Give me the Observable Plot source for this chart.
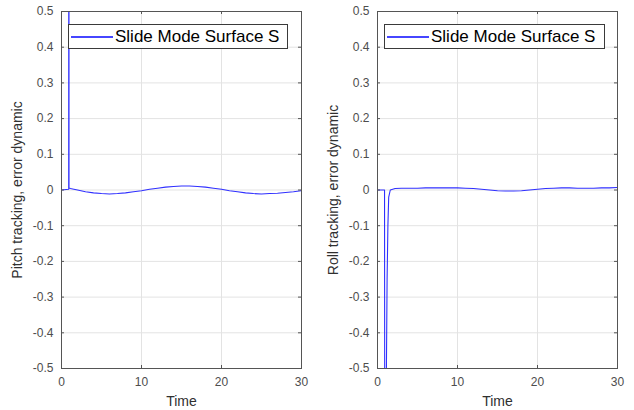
<!DOCTYPE html>
<html>
<head>
<meta charset="utf-8">
<script src="https://cdn.jsdelivr.net/npm/d3@7"></script>
<script src="https://cdn.jsdelivr.net/npm/@observablehq/plot@0.6"></script>
<style>
  body { margin: 0; background: #fff; }
  #wrap { position: relative; width: 634px; height: 410px; font-family: "Liberation Sans", Arial, sans-serif; }
  .panel { position: absolute; top: 0; }
  .legend { position: absolute; height: 25px; border: 1px solid #3a3a3a; background: #fff; box-sizing: border-box; }
  .legend .swatch { position: absolute; left: 2px; top: 11px; width: 42px; height: 1.5px; background: #4646ff; }
  .legend .lab { position: absolute; left: 46px; top: 1px; font-size: 17px; line-height: 21px; color: #000; white-space: nowrap; }
</style>
</head>
<body>
<div id="wrap"></div>
<script>
// ---- data ----
const xTicks = [0, 10, 20, 30];
const yTicks = [-0.5, -0.4, -0.3, -0.2, -0.1, 0, 0.1, 0.2, 0.3, 0.4, 0.5];
const yTickLabels = ["-0.5", "-0.4", "-0.3", "-0.2", "-0.1", "0", "0.1", "0.2", "0.3", "0.4", "0.5"];
const xLabel = "Time";
const legendLabel = "Slide Mode Surface S";
const pitchLabel = "Pitch tracking, error dynamic";
const rollLabel = "Roll tracking, error dynamic";

const pitchT = [0, 0.9, 0.92, 0.94, 1.1, 2, 3, 4, 5, 6, 7, 8, 9, 10, 11, 12, 13, 14, 15, 16, 17, 18, 19, 20, 21, 22, 23, 24, 25, 26, 27, 28, 29, 30];
const pitchS = [0, 0.002, 3.0, 0.006, 0.004, 0.0, -0.005, -0.008, -0.010, -0.011, -0.010, -0.008, -0.005, -0.002, 0.002, 0.005, 0.008, 0.010, 0.011, 0.011, 0.010, 0.008, 0.005, 0.002, -0.002, -0.005, -0.008, -0.010, -0.011, -0.010, -0.009, -0.007, -0.005, -0.002];

const rollT = [0, 0.88, 0.98, 1.08, 1.2, 1.3, 1.4, 1.6, 2.2, 3, 4, 5, 6, 7, 8, 9, 10, 11, 12, 13, 14, 15, 16, 17, 18, 19, 20, 21, 22, 23, 24, 25, 26, 27, 28, 29, 30];
const rollS = [0, 0.0, -3.0, -0.6, -0.25, -0.1, -0.02, 0.0, 0.004, 0.005, 0.005, 0.005, 0.006, 0.006, 0.006, 0.006, 0.006, 0.005, 0.004, 0.002, 0.0, -0.002, -0.003, -0.003, -0.002, 0.0, 0.002, 0.004, 0.005, 0.006, 0.006, 0.005, 0.005, 0.005, 0.006, 0.006, 0.007];

// ---- layout ----
const W = 317, H = 410, MT = 11, MB = 42;
const axisColor = "#555555";
const tickColor = "#4d4d4d";
const labelColor = "#303030";
const gridColor = "#e3e3e3";
const TL = 3;

function panel(T, S, ylabel, ml, mr) {
  const data = T.map((t, i) => ({t, s: S[i]}));
  const iw = W - ml - mr, ih = H - MT - MB;
  return Plot.plot({
    width: W, height: H,
    marginLeft: ml, marginRight: mr, marginTop: MT, marginBottom: MB,
    style: {fontFamily: "'Liberation Sans', Arial, sans-serif", background: "#fff", overflow: "visible"},
    x: {domain: [0, 30]},
    y: {domain: [-0.5, 0.5]},
    marks: [
      Plot.ruleX(xTicks, {stroke: gridColor, strokeWidth: 1}),
      Plot.ruleY(yTicks, {stroke: gridColor, strokeWidth: 1}),
      Plot.line(data, {x: "t", y: "s", stroke: "#3030ff", strokeWidth: 1.1, clip: true}),
      // inward ticks
      Plot.ruleX(xTicks, {stroke: axisColor, insetTop: ih - TL}),
      Plot.ruleX(xTicks, {stroke: axisColor, insetBottom: ih - TL}),
      Plot.ruleY(yTicks, {stroke: axisColor, insetRight: iw - TL}),
      Plot.ruleY(yTicks, {stroke: axisColor, insetLeft: iw - TL}),
      Plot.frame({stroke: axisColor, strokeWidth: 1}),
      Plot.axisX(xTicks, {tickSize: 0, tickPadding: 9, fontSize: 12, color: tickColor,
        tickFormat: d => String(d), label: null}),
      Plot.axisX([], {tickSize: 0, fontSize: 14, color: labelColor,
        label: xLabel, labelAnchor: "center", labelOffset: 37, labelArrow: "none"}),
      Plot.axisY(yTicks, {tickSize: 0, tickPadding: 8, fontSize: 12, color: tickColor,
        tickFormat: d => yTickLabels[yTicks.indexOf(d)], label: null}),
      Plot.axisY([], {tickSize: 0, fontSize: 14, color: labelColor,
        label: ylabel, labelAnchor: "center", labelOffset: 49, labelArrow: "none"})
    ]
  });
}

const wrap = document.getElementById("wrap");
function addPanel(left, T, S, ylabel, ml, mr, legLeft, legWidth) {
  const d = document.createElement("div");
  d.className = "panel";
  d.style.left = left + "px";
  d.appendChild(panel(T, S, ylabel, ml, mr));
  wrap.appendChild(d);
  const lg = document.createElement("div");
  lg.className = "legend";
  lg.style.left = legLeft + "px";
  lg.style.top = "24px";
  lg.style.width = legWidth + "px";
  lg.innerHTML = '<div class="swatch"></div><div class="lab"></div>';
  lg.querySelector(".lab").textContent = legendLabel;
  wrap.appendChild(lg);
}
addPanel(0, pitchT, pitchS, pitchLabel, 61, 16, 68, 220);
addPanel(317, rollT, rollS, rollLabel, 60, 17, 384, 221);
</script>
</body>
</html>
